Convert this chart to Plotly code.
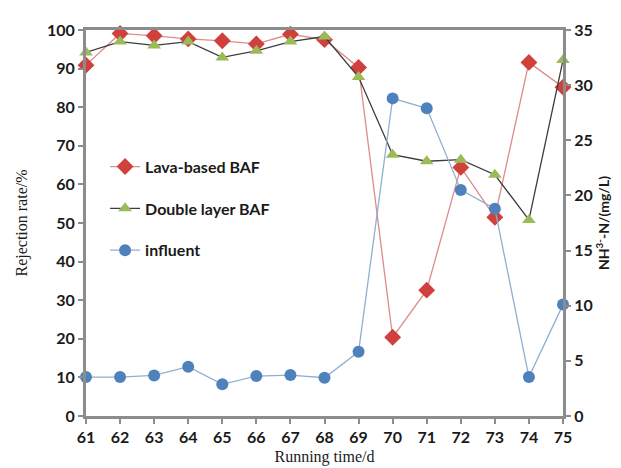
import plotly.graph_objects as go

days = [61, 62, 63, 64, 65, 66, 67, 68, 69, 70, 71, 72, 73, 74, 75]
lava_baf = [90.9, 99.1, 98.5, 97.7, 97.2, 96.4, 98.9, 97.5, 90.3, 20.4, 32.6, 64.4, 51.5, 91.6, 85.2]
double_baf = [94.2, 97.0, 96.0, 97.0, 92.9, 94.6, 97.0, 98.3, 87.8, 67.7, 66.0, 66.4, 62.5, 50.8, 92.2]
influent = [3.53, 3.53, 3.68, 4.47, 2.87, 3.62, 3.71, 3.47, 5.82, 28.8, 27.9, 20.5, 18.8, 3.53, 10.1]

sans = "Lato, Open Sans, sans-serif"
tick_font = dict(family=sans, size=16, color="#1a1a1a", weight="bold")
axis_col = "#8c8c8c"

fig = go.Figure()
fig.add_trace(go.Scatter(
    x=days, y=lava_baf, name="Lava-based BAF", mode="lines+markers",
    line=dict(color="#e08a8a", width=1.3),
    marker=dict(symbol="diamond", size=13, color="#d0403c"),
    cliponaxis=False, legendgroup="a"))
fig.add_trace(go.Scatter(
    x=days, y=double_baf, name="Double layer BAF", mode="lines+markers",
    line=dict(color="#3c3c3c", width=1.3),
    marker=dict(symbol="triangle-up", size=12, color="#9bbb59"),
    cliponaxis=False, legendgroup="b"))
fig.add_trace(go.Scatter(
    x=days, y=influent, name="influent", mode="lines+markers", yaxis="y2",
    line=dict(color="#8fb0d0", width=1.3),
    marker=dict(symbol="circle", size=12, color="#4f81bd"),
    cliponaxis=False, legendgroup="c"))

fig.update_layout(
    width=621, height=468,
    margin=dict(l=78, r=66, t=22, b=60),
    paper_bgcolor="white", plot_bgcolor="white",
    showlegend=True,
    legend=dict(x=0.04, y=0.69, xanchor="left", yanchor="top",
                bgcolor="rgba(0,0,0,0)", tracegroupgap=18,
                font=dict(family=sans, size=16, color="#1a1a1a", weight="bold")),
    xaxis=dict(range=[61, 75], tickmode="array", tickvals=days, ticktext=[str(d) for d in days],
               showgrid=False, zeroline=False, showline=True, linecolor=axis_col, linewidth=3,
               mirror=True, ticks="outside", ticklen=5, tickcolor=axis_col, tickwidth=2,
               tickfont=tick_font,
               title=dict(text="Running time/d", standoff=6,
                          font=dict(family="Liberation Serif, serif", size=16, color="#1a1a1a"))),
    yaxis=dict(range=[0, 100], dtick=10, showgrid=False, zeroline=False, showline=True,
               linecolor=axis_col, linewidth=3, ticks="outside", ticklen=5, tickcolor=axis_col,
               tickwidth=2, tickfont=tick_font,
               title=dict(text="Rejection rate/%", standoff=16,
                          font=dict(family="Liberation Serif, serif", size=16, color="#1a1a1a"))),
    yaxis2=dict(range=[0, 35], dtick=5, overlaying="y", side="right", showgrid=False,
                zeroline=False, showline=True, linecolor=axis_col, linewidth=3,
                ticks="outside", ticklen=5, tickcolor=axis_col, tickwidth=2, tickfont=tick_font,
                title=dict(text="NH<sup>3-</sup>-N/(mg/L)", standoff=4,
                           font=dict(family=sans, size=14, color="#1a1a1a", weight="bold"))),
)

fig.write_html("out.html")
